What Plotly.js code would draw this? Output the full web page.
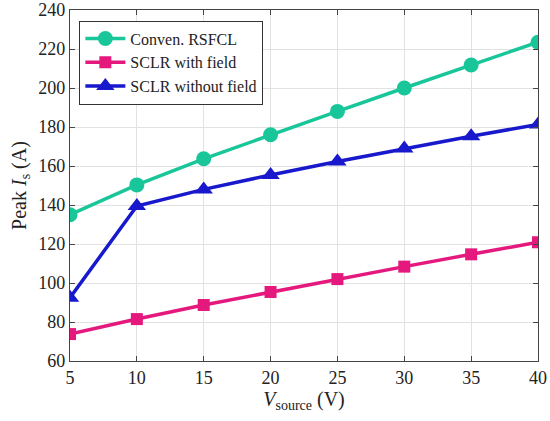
<!DOCTYPE html>
<html><head><meta charset="utf-8">
<script src="https://cdn.plot.ly/plotly-3.0.1.min.js"></script>
<style>html,body{margin:0;padding:0;background:#fff}#c{width:550px;height:421px}</style>
</head><body><div id="c"></div>
<script>
const vsource = [5, 10, 15, 20, 25, 30, 35, 40];
const convenRSFCL = [135, 150.3, 163.7, 176, 188, 200, 211.8, 223.5];
const sclrWithField = [73.8, 81.5, 88.7, 95.4, 102, 108.4, 114.7, 120.9];
const sclrWithoutField = [92.5, 139.5, 148, 155.4, 162.3, 169, 175.3, 181.3];
const yTicks = [60, 80, 100, 120, 140, 160, 180, 200, 220, 240];
const xTicks = [5, 10, 15, 20, 25, 30, 35, 40];

const FAM = 'Liberation Serif';
const font = {family: FAM, color: '#222'};
const traces = [
  {x: vsource, y: convenRSFCL, name: 'Conven. RSFCL', mode: 'lines+markers',
   line: {color: '#19C699', width: 3.5}, marker: {symbol: 'circle', size: 15, color: '#19C699'}},
  {x: vsource, y: sclrWithField, name: 'SCLR with field', mode: 'lines+markers',
   line: {color: '#E5187E', width: 3.5}, marker: {symbol: 'square', size: 12, color: '#E5187E'}},
  {x: vsource, y: sclrWithoutField, name: 'SCLR without field', mode: 'lines+markers',
   line: {color: '#1818CC', width: 3.5}, marker: {symbol: 'triangle-up', size: 16, color: '#1818CC'}}
];
const axisCommon = {
  showline: true, linecolor: '#444', linewidth: 1.2, mirror: 'ticks',
  ticks: 'inside', ticklen: 5, tickcolor: '#444',
  showgrid: true, gridcolor: '#e2e2e2', gridwidth: 1, zeroline: false,
  tickfont: {family: FAM, color: '#222', size: 18}
};
const layout = {
  width: 550, height: 421,
  margin: {l: 69.5, r: 12, t: 10, b: 60},
  paper_bgcolor: '#fff', plot_bgcolor: '#fff',
  font: font,
  showlegend: true,
  legend: {x: 0.02, y: 0.97, xanchor: 'left', yanchor: 'top',
    bgcolor: '#fff', bordercolor: '#333', borderwidth: 1,
    font: {family: FAM, color: '#222', size: 16}, tracegroupgap: 0, itemwidth: 40},
  xaxis: Object.assign({}, axisCommon, {range: [5, 40], tickvals: xTicks,
    title: {text: '<i>V</i><sub>source</sub> (V)', font: {family: FAM, color: '#222', size: 20}, standoff: 4}}),
  yaxis: Object.assign({}, axisCommon, {range: [60, 240], tickvals: yTicks,
    title: {text: 'Peak <i>I</i><sub>s</sub> (A)', font: {family: FAM, color: '#222', size: 20}, standoff: 6}})
};
Plotly.newPlot('c', traces, layout, {displayModeBar: false, staticPlot: true});
</script></body></html>
